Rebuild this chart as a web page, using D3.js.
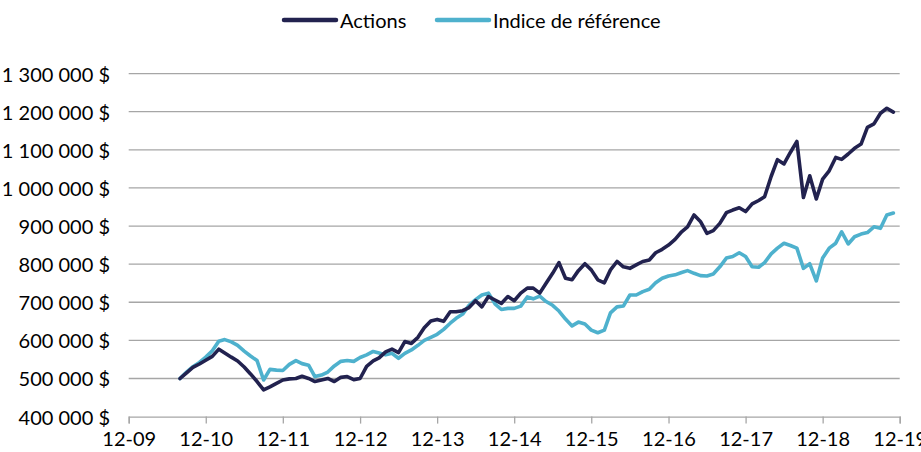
<!DOCTYPE html>
<html>

<head>
    <meta charset="utf-8">
    <title>Actions vs indice</title>
    <script src="https://d3js.org/d3.v7.min.js"></script>
    <style>
        body { margin: 0; background: #fff; }
        text { font-family: Lato, "Open Sans", sans-serif; fill: #000; }
    </style>
</head>

<body>
    <script>
        // monthly values (thousands of $), first month = Aug 2010
        var startMonth = new Date(2010, 7, 1);
        var seriesNames = ["Actions", "Indice de référence"];
        var seriesColors = ["#22224f", "#4eb1cd"];

        var actions = [500, 515, 529, 538, 548, 558, 577, 567, 556, 546, 530, 512, 492, 470, 478, 487,
            496, 499, 500, 506, 500, 492, 496, 500, 492, 503, 505, 497, 500, 532, 546, 554,
            570, 577, 568, 597, 592, 608, 633, 651, 655, 650, 675, 675, 678, 686, 704, 688,
            715, 706, 697, 715, 704, 724, 737, 737, 724, 750, 776, 804, 763, 759, 783, 801,
            785, 759, 751, 785, 807, 793, 789, 798, 807, 811, 830, 839, 850, 865, 885, 898,
            929, 912, 881, 888, 907, 935, 942, 948, 938, 958, 967, 977, 1030, 1074, 1063, 1093,
            1122, 975, 1032, 971, 1023, 1045, 1080, 1075, 1089, 1104, 1115, 1159, 1168, 1196, 1209, 1199];

        var benchmark = [500, 517, 531, 542, 556, 573, 598, 602, 596, 587, 572, 559, 547, 496, 524, 522,
            521, 537, 547, 539, 535, 505, 509, 517, 533, 545, 547, 545, 555, 562, 571, 567,
            562, 566, 553, 566, 575, 587, 600, 608, 616, 629, 645, 658, 669, 692, 707, 719,
            724, 696, 681, 684, 684, 690, 714, 709, 716, 702, 692, 677, 656, 638, 648, 643,
            627, 620, 627, 672, 688, 690, 719, 719, 728, 734, 751, 763, 769, 772, 778, 783,
            776, 770, 769, 774, 793, 816, 820, 830, 820, 793, 792, 804, 827, 842, 855, 849,
            842, 789, 801, 756, 816, 842, 855, 885, 853, 872, 879, 883, 898, 894, 929, 934];

        var yTicks = [400000, 500000, 600000, 700000, 800000, 900000, 1000000, 1100000, 1200000, 1300000];
        var xTicks = ["2009-12", "2010-12", "2011-12", "2012-12", "2013-12", "2014-12",
            "2015-12", "2016-12", "2017-12", "2018-12", "2019-12"];

        var width = 921, height = 452;
        var plotLeft = 128.7, plotRight = 899.7, plotTop = 73.6, plotBottom = 416.6;
        var fontSize = "20px";

        var svg = d3.select("body").append("svg")
            .attr("width", width)
            .attr("height", height);

        var parseMonth = d3.timeParse("%Y-%m");
        var tickDates = xTicks.map(parseMonth);

        var x = d3.scaleTime()
            .domain([tickDates[0], tickDates[tickDates.length - 1]])
            .range([plotLeft, plotRight]);

        var y = d3.scaleLinear()
            .domain([400000, 1300000])
            .range([plotBottom, plotTop]);

        var locale = d3.formatLocale({ decimal: ",", thousands: " ", grouping: [3], currency: ["", " $"] });
        var fmtMoney = locale.format("$,.0f");

        // grid lines
        svg.append("g")
            .selectAll("line")
            .data(yTicks.slice(1))
            .join("line")
            .attr("x1", plotLeft)
            .attr("x2", plotRight)
            .attr("y1", d => y(d))
            .attr("y2", d => y(d))
            .style("stroke", "#a6a6a6")
            .style("stroke-width", 1.3);

        // y labels
        svg.append("g")
            .selectAll("text")
            .data(yTicks)
            .join("text")
            .attr("x", 110)
            .attr("y", d => y(d))
            .attr("text-anchor", "end")
            .attr("dominant-baseline", "central")
            .style("font-size", fontSize)
            .text(d => fmtMoney(d));

        // x axis
        var xAxis = d3.axisBottom(x)
            .tickValues(tickDates)
            .tickFormat(d3.timeFormat("%m-%y"))
            .tickSize(7)
            .tickPadding(8);

        var gx = svg.append("g")
            .attr("transform", "translate(0," + plotBottom + ")")
            .call(xAxis);
        gx.select(".domain").style("stroke", "#a6a6a6").style("stroke-width", 1.3);
        gx.selectAll(".tick line").style("stroke", "#a6a6a6").style("stroke-width", 1.3);
        gx.selectAll(".tick text")
            .style("font-size", fontSize)
            .style("font-family", "Lato, sans-serif")
            .attr("fill", "#000");

        // series
        var series = [actions, benchmark].map(function (vals, i) {
            return {
                name: seriesNames[i],
                color: seriesColors[i],
                points: vals.map(function (v, j) {
                    return { date: d3.timeMonth.offset(startMonth, j), value: v * 1000 };
                })
            };
        });

        var line = d3.line()
            .x(d => x(d.date))
            .y(d => y(d.value));

        // draw benchmark first, then actions on top
        svg.append("g")
            .selectAll("path")
            .data(series.slice().reverse())
            .join("path")
            .attr("d", d => line(d.points))
            .style("fill", "none")
            .style("stroke", d => d.color)
            .style("stroke-width", 3.6)
            .style("stroke-linejoin", "round")
            .style("stroke-linecap", "round");

        // legend
        var legendX = [283, 436];
        var legend = svg.append("g")
            .selectAll("g")
            .data(series)
            .join("g")
            .attr("transform", (d, i) => "translate(" + legendX[i] + ",20)");

        legend.append("line")
            .attr("x1", 1)
            .attr("x2", 53)
            .style("stroke", d => d.color)
            .style("stroke-width", 4.5)
            .style("stroke-linecap", "round");

        legend.append("text")
            .attr("x", 57)
            .attr("dominant-baseline", "central")
            .style("font-size", fontSize)
            .text(d => d.name);
    </script>
</body>

</html>
